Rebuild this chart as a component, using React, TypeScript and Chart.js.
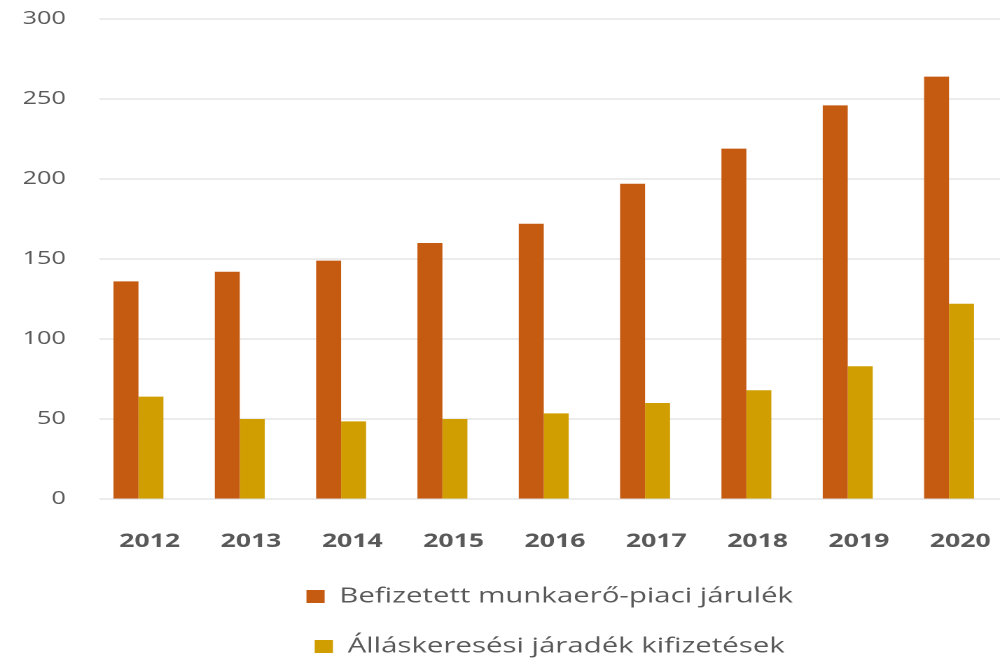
import React, { useEffect, useRef } from 'react';
import { Chart, registerables } from 'chart.js';

Chart.register(...registerables);

const years = ['2012', '2013', '2014', '2015', '2016', '2017', '2018', '2019', '2020'];
const contributions = [136, 142, 149, 160, 172, 197, 219, 246, 264];
const benefits = [64, 50, 48.5, 50, 53.5, 60, 68, 83, 122];
const seriesNames = ['Befizetett munkaerő-piaci járulék', 'Álláskeresési járadék kifizetések'];
const seriesColors = ['#C55A11', '#D09E00'];
const yMin = 0;
const yMax = 300;
const yStep = 50;

const W = 1000;
const H = 659;
const STRETCH = 1.4;
const LW = Math.round(W / STRETCH);

export default function App() {
  const ref = useRef<HTMLCanvasElement>(null);

  useEffect(() => {
    document.body.style.margin = '0';
    const canvas = ref.current;
    if (!canvas) return;
    const chart = new Chart(canvas, {
      type: 'bar',
      data: {
        datasets: [
          {
            label: seriesNames[0],
            data: years.map((_, i) => ({ x: i, y: contributions[i] })),
            backgroundColor: seriesColors[0],
            borderWidth: 0,
            categoryPercentage: 0.493,
            barPercentage: 1,
          },
          {
            label: seriesNames[1],
            data: years.map((_, i) => ({ x: i, y: benefits[i] })),
            backgroundColor: seriesColors[1],
            borderWidth: 0,
            categoryPercentage: 0.493,
            barPercentage: 1,
          },
        ],
      },
      options: {
        responsive: false,
        devicePixelRatio: 2,
        animation: false,
        layout: { padding: { top: 19, left: 0, right: 0, bottom: -8 } },
        scales: {
          x: {
            type: 'linear',
            min: -0.385,
            max: 8.503,
            offset: false,
            grid: { display: false },
            border: { display: false },
            ticks: {
              stepSize: 1,
              includeBounds: false,
              autoSkip: false,
              maxRotation: 0,
              labelOffset: 8,
              padding: 23,
              color: '#595959',
              font: { family: 'Open Sans', size: 19, weight: 'bold' },
              callback: (v: any) => years[v as number] ?? '',
            },
            afterFit: (s: any) => {
              s.height = 58;
              s.paddingLeft = 0;
              s.paddingRight = 0;
            },
          },
          y: {
            min: yMin,
            max: yMax,
            grid: { color: '#d9d9d9', lineWidth: 1, drawTicks: false },
            border: { display: false },
            ticks: {
              stepSize: yStep,
              padding: 24,
              color: '#595959',
              font: { family: 'Open Sans', size: 18 },
            },
            afterFit: (s: any) => {
              s.width = 71;
              s.paddingTop = 0;
              s.paddingBottom = 0;
            },
          },
        },
        plugins: {
          legend: {
            position: 'bottom',
            fullSize: false,
            labels: {
              boxWidth: 13,
              boxHeight: 13,
              padding: 29,
              color: '#595959',
              font: { family: 'Open Sans', size: 21 },
            },
          },
          tooltip: { enabled: false },
        },
      },
    });
    return () => chart.destroy();
  }, []);

  return (
    <div style={{ width: W, height: H }}>
      <canvas
        ref={ref}
        width={LW}
        height={H}
        style={{ width: W + 'px', height: H + 'px', display: 'block' }}
      />
    </div>
  );
}
